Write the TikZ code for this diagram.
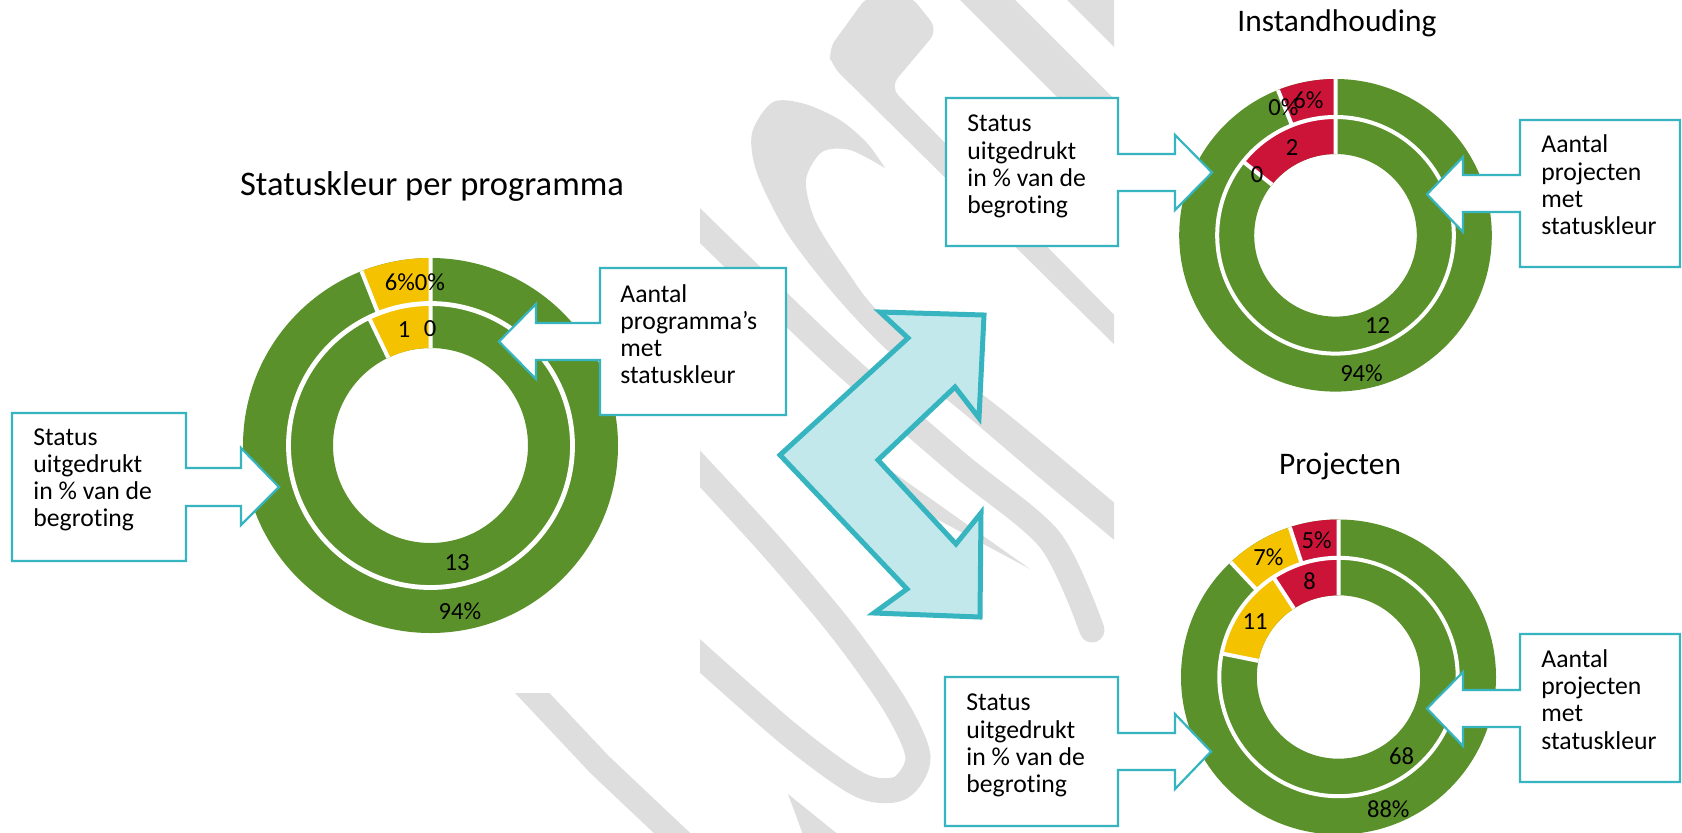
\documentclass[tikz,border=0pt]{standalone}
\usepackage{fontspec}
\setmainfont{Carlito}[Ligatures=NoCommon]
\definecolor{grn}{HTML}{5A912B}
\definecolor{ylw}{HTML}{F5C200}
\definecolor{rd}{HTML}{CC1439}
\definecolor{tealc}{HTML}{36B5C0}
\definecolor{lcyan}{HTML}{C2E8EB}
\definecolor{wmg}{HTML}{DEDEDE}
\newcommand\annseg[5]{\fill[#5] (#3:#2) arc[start angle=#3,end angle=#4,radius=#2] -- (#4:#1) arc[start angle=#4,end angle=#3,radius=#1] -- cycle;}
\newcommand\fourlines[4]{\vtop{\hbox{#1}\hbox{#2}\hbox{#3}\hbox{#4}}}
\tikzset{
  wmfill/.style={fill=wmg},
  wmband/.style={draw=wmg, line width=12.5pt},
  callout/.style={draw=tealc, fill=white, line width=1.1pt, line join=miter},
  bigarrow/.style={draw=tealc, fill=lcyan, line width=2.5pt, line join=miter},
  boxtext/.style={inner sep=0pt, anchor=base west, font=\fontsize{12.85}{13.65}\selectfont},
  lbl/.style={inner sep=0pt, font=\fontsize{12.3}{14}\selectfont},
  ttl/.style={inner sep=0pt, anchor=base},
  sep/.style={draw=white, line width=2pt},
}
\begin{document}
\begin{tikzpicture}[x=0.5pt,y=-0.5pt]
\useasboundingbox (0,0) rectangle (1682,832);
\fill[white] (0,0) rectangle (1682,832);

% ---------- watermark ----------
\begin{scope}
\clip (700,-5) -- (1114,-5) -- (1114,840) -- (500,840) -- (500,693) -- (700,693) -- cycle;
\fill[wmfill, rounded corners=6] (868,-5) -- (910,-5) -- (938,30) -- (890,87) -- (1130,331) -- (1130,360) -- (832,66) -- (828,50) -- cycle;
\fill[wmfill] (955,-5) -- (1010,-5) -- (1130,115) -- (1130,170) -- cycle;
\fill[wmfill] (1062,-5) -- (1130,-5) -- (1130,63) -- cycle;
\fill[wmfill] plot[smooth] coordinates {(1130,553) (1040,478) (967,416) (887,350) (833,293) (787,233) (757,173) (752,133) (773,102) (805,104) (840,120) (867,143) (885,168)}
  -- plot[smooth] coordinates {(885,168) (850,150) (822,152) (806,180) (815,220) (845,268) (887,320) (1010,416) (1130,516)} -- cycle;
\draw[wmband, line cap=round] plot[smooth] coordinates {(680,206) (760,284) (845,365) (960,465) (1050,540) (1092,630)};
\fill[wmfill] (890,470) -- (1030,569) -- (905,502) -- cycle;
\draw[wmband, line cap=round] plot[smooth] coordinates {(690,458) (770,545) (841,629) (895,705) (918,757) (900,788) (860,785) (790,735) (690,647)};
\draw[wmband] (520,680) -- (600,765) -- (690,850);
\fill[wmfill] (788,794) -- (845,840) -- (805,840) -- cycle;
\end{scope}

% ---------- donut: Statuskleur per programma ----------
\begin{scope}[shift={(430.5,445.5)}]
  \annseg{97.5}{187.5}{0}{360}{grn}
  \annseg{142}{187.5}{-90}{-111.6}{ylw}
  \annseg{97.5}{142}{-90}{-115.7}{ylw}
  \draw[white, line width=2.4pt] (0,0) circle[radius=142];
  \draw[sep] (-90:97.5) -- (-90:187.5) (-111.6:142) -- (-111.6:187.5) (-115.7:97.5) -- (-115.7:142);
\end{scope}

% ---------- donut: Instandhouding ----------
\begin{scope}[shift={(1335.5,235.3)}]
  \annseg{81.3}{156.3}{0}{360}{grn}
  \annseg{118.3}{156.3}{-90}{-111.6}{rd}
  \annseg{81.3}{118.3}{-90}{-141.4}{rd}
  \draw[white, line width=2pt] (0,0) circle[radius=118.3];
  \draw[sep] (-90:81.3) -- (-90:156.3) (-111.6:118.3) -- (-111.6:156.3) (-141.4:81.3) -- (-141.4:118.3);
\end{scope}

% ---------- donut: Projecten ----------
\begin{scope}[shift={(1338.5,677)}]
  \annseg{81.7}{157.5}{0}{360}{grn}
  \annseg{119.2}{157.5}{-90}{-108}{rd}
  \annseg{119.2}{157.5}{-108}{-133.2}{ylw}
  \annseg{81.7}{119.2}{-90}{-123.1}{rd}
  \annseg{81.7}{119.2}{-123.1}{-168.6}{ylw}
  \draw[white, line width=2pt] (0,0) circle[radius=119.2];
  \draw[sep] (-90:81.7) -- (-90:157.5) (-108:119.2) -- (-108:157.5) (-133.2:119.2) -- (-133.2:157.5)
     (-123.1:81.7) -- (-123.1:119.2) (-168.6:81.7) -- (-168.6:119.2);
\end{scope}

% ---------- titles ----------
\node[ttl, font=\fontsize{17.25}{20}\selectfont] (t1) at (432,195) {Statuskleur per programma};
\node[ttl, font=\fontsize{15.7}{18}\selectfont] (t2) at (1337,31.7) {Instandhouding};
\node[ttl, font=\fontsize{15.7}{18}\selectfont] (t3) at (1340,474.3) {Projecten};

% ---------- data labels ----------
\node[lbl] (l1) at (400,282) {6\%};
\node[lbl] (l2) at (430,282) {0\%};
\node[lbl] (l3) at (404,330) {1};
\node[lbl] (l4) at (430,329) {0};
\node[lbl] (l5) at (457,563) {13};
\node[lbl] (l6) at (460,611) {94\%};
\node[lbl] (i1) at (1283.3,107.5) {0\%};
\node[lbl] (i2) at (1308.3,100) {6\%};
\node[lbl] (i3) at (1292,147.5) {2};
\node[lbl] (i4) at (1257,174.7) {0};
\node[lbl] (i5) at (1377.7,326) {12};
\node[lbl] (i6) at (1361.5,373.3) {94\%};
\node[lbl] (p1) at (1316.7,540) {5\%};
\node[lbl] (p2) at (1268.3,556.7) {7\%};
\node[lbl] (p3) at (1309.5,581.3) {8};
\node[lbl] (p4) at (1255,621.7) {11};
\node[lbl] (p5) at (1401.7,755.7) {68};
\node[lbl] (p6) at (1388.3,809) {88\%};

% ---------- callouts ----------
\draw[callout] (12,413) -- (186,413) -- (186,468) -- (241,468) -- (241,448) -- (279,487) -- (241,525) -- (241,506) -- (186,506) -- (186,561) -- (12,561) -- cycle;
\draw[callout] (946,98) -- (1118,98) -- (1118,154) -- (1175,154) -- (1175,135) -- (1212,172.5) -- (1175,210) -- (1175,191) -- (1118,191) -- (1118,246) -- (946,246) -- cycle;
\draw[callout] (945,677) -- (1118,677) -- (1118,733) -- (1175,733) -- (1175,714) -- (1211,751.5) -- (1175,789) -- (1175,770) -- (1118,770) -- (1118,826) -- (945,826) -- cycle;
\draw[callout] (600,268) -- (786,268) -- (786,415) -- (600,415) -- (600,360) -- (536,360) -- (536,379) -- (499,341.5) -- (536,304) -- (536,323) -- (600,323) -- cycle;
\draw[callout] (1520,120) -- (1680,120) -- (1680,267) -- (1520,267) -- (1520,212) -- (1463,212) -- (1463,232) -- (1427,194.3) -- (1463,157) -- (1463,175) -- (1520,175) -- cycle;
\draw[callout] (1520,634) -- (1680,634) -- (1680,782) -- (1520,782) -- (1520,727) -- (1463,727) -- (1463,746) -- (1427,708.5) -- (1463,672) -- (1463,690) -- (1520,690) -- cycle;

\node[boxtext] (ls) at (33,445) {\fourlines{Status}{uitgedrukt}{in \% van de}{begroting}};
\node[boxtext] (la) at (620,302) {\fourlines{Aantal}{programma’s}{met}{statuskleur}};
\node[boxtext] (is) at (967,131.7) {\fourlines{Status}{uitgedrukt}{in \% van de}{begroting}};
\node[boxtext] (ia) at (1541,152.7) {\fourlines{Aantal}{projecten}{met}{statuskleur}};
\node[boxtext] (ps) at (966,710.7) {\fourlines{Status}{uitgedrukt}{in \% van de}{begroting}};
\node[boxtext] (pa) at (1541,667.3) {\fourlines{Aantal}{projecten}{met}{statuskleur}};

% ---------- big double arrow ----------
\draw[bigarrow] (780,455) -- (908,338) -- (880,312) -- (984,315) -- (979,418) -- (955,387) -- (878,460)
  -- (956,544) -- (981,513) -- (980,617) -- (874,613) -- (907,589) -- cycle;
\end{tikzpicture}
\end{document}
